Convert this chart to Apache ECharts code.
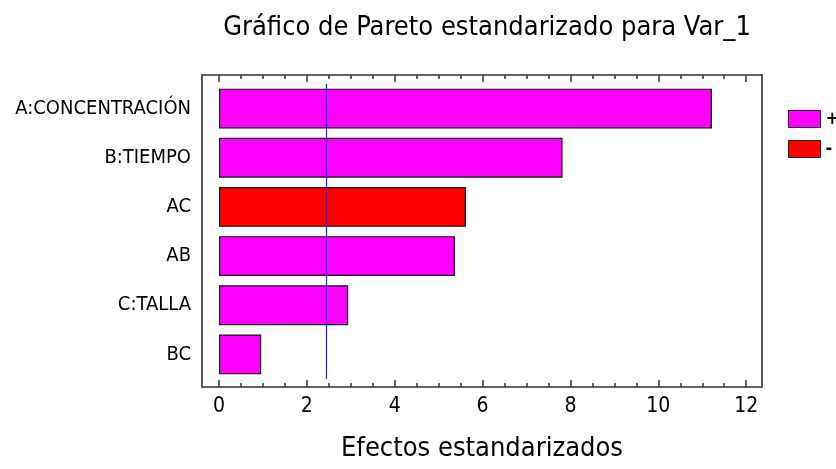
<!DOCTYPE html>
<html>
<head>
<meta charset="utf-8">
<script src="https://cdn.jsdelivr.net/npm/echarts@6/dist/echarts.min.js"></script>
<style>
  html, body { margin: 0; padding: 0; background: #fff; }
  #main { width: 836px; height: 469px; }
</style>
</head>
<body>
<div id="main"></div>
<script>
// datos
var categorias = ['A:CONCENTRACIÓN', 'B:TIEMPO', 'AC', 'AB', 'C:TALLA', 'BC'];
var efectos = [11.22, 7.82, 5.62, 5.37, 2.94, 0.96];
var signos = ['+', '+', '-', '+', '+', '+'];
var limite = 2.45;
var ticksX = [0, 2, 4, 6, 8, 10, 12];
var ticksMenores = [0.5, 1, 1.5, 2.5, 3, 3.5, 4.5, 5, 5.5, 6.5, 7, 7.5, 8.5, 9, 9.5, 10.5, 11, 11.5];
var xMin = -0.387, xMax = 12.36;

var fuente = "'DejaVu Sans Condensed', 'Liberation Sans Narrow', sans-serif";

var positivos = efectos.map(function (v, i) { return signos[i] === '+' ? v : '-'; });
var negativos = efectos.map(function (v, i) { return signos[i] === '-' ? v : '-'; });

function ejeX(pos, menor, conLabels) {
  return {
    type: 'value', gridIndex: 0, position: pos, min: xMin, max: xMax,
    axisLine: { show: !menor, onZero: false, lineStyle: { color: '#333', width: 1.5 } },
    axisTick: { show: true, inside: true, length: menor ? 4 : 7, customValues: menor ? ticksMenores : ticksX,
      lineStyle: { color: '#333', width: 1.5 } },
    axisLabel: conLabels ? { show: true, customValues: ticksX, margin: 9, color: '#000', fontSize: 21, fontFamily: fuente } : { show: false },
    splitLine: { show: false },
    name: conLabels ? 'Efectos estandarizados' : '',
    nameLocation: 'middle', nameGap: 48,
    nameTextStyle: { color: '#000', fontSize: 27, fontFamily: fuente }
  };
}

function ejeY(pos) {
  return {
    type: 'value', gridIndex: 0, position: pos, min: 0, max: 1,
    axisLine: { show: true, onZero: false, lineStyle: { color: '#222', width: 1.5 } },
    axisTick: { show: false }, axisLabel: { show: false }, splitLine: { show: false }
  };
}

var myChart = echarts.init(document.getElementById('main'));
var option = {
  animation: false,
  backgroundColor: '#fff',
  title: {
    text: 'Gráfico de Pareto estandarizado para Var_1',
    left: 482, top: 9, textAlign: 'center',
    textStyle: { color: '#000', fontSize: 27, fontWeight: 'normal', fontFamily: fuente }
  },
  legend: {
    orient: 'vertical', left: 783, top: 105,
    icon: 'rect', itemWidth: 32, itemHeight: 17, itemGap: 12,
    data: ['+', '-'],
    itemStyle: { borderColor: '#222', borderWidth: 1 },
    textStyle: { color: '#000', fontSize: 18, fontWeight: 'bold', fontFamily: fuente }
  },
  grid: [
    { left: 202, right: 74, top: 75, bottom: 82, outerBoundsMode: 'none' },   // marco
    { left: 202, right: 74, top: 84, bottom: 90, outerBoundsMode: 'none' }    // barras
  ],
  xAxis: [
    ejeX('bottom', false, true),
    ejeX('bottom', true, false),
    ejeX('top', false, false),
    ejeX('top', true, false),
    { type: 'value', gridIndex: 1, min: xMin, max: xMax, show: false }
  ],
  yAxis: [
    ejeY('left'),
    ejeY('right'),
    { type: 'category', gridIndex: 1, inverse: true, data: categorias,
      axisLine: { show: false }, axisTick: { show: false },
      axisLabel: { color: '#000', fontSize: 20, margin: 11, fontFamily: fuente } }
  ],
  series: [
    {
      name: '+', type: 'bar', xAxisIndex: 4, yAxisIndex: 2, stack: 'e',
      barCategoryGap: '19%', data: positivos,
      itemStyle: { color: '#ff00ff', borderColor: '#111', borderWidth: 1.2 },
      markLine: {
        silent: true, symbol: 'none', label: { show: false },
        lineStyle: { color: '#2020ff', width: 1.2, type: 'solid' },
        data: [{ xAxis: limite }]
      }
    },
    {
      name: '-', type: 'bar', xAxisIndex: 4, yAxisIndex: 2, stack: 'e',
      barCategoryGap: '19%', data: negativos,
      itemStyle: { color: '#ff0000', borderColor: '#111', borderWidth: 1.2 }
    }
  ]
};
myChart.setOption(option);
</script>
</body>
</html>
